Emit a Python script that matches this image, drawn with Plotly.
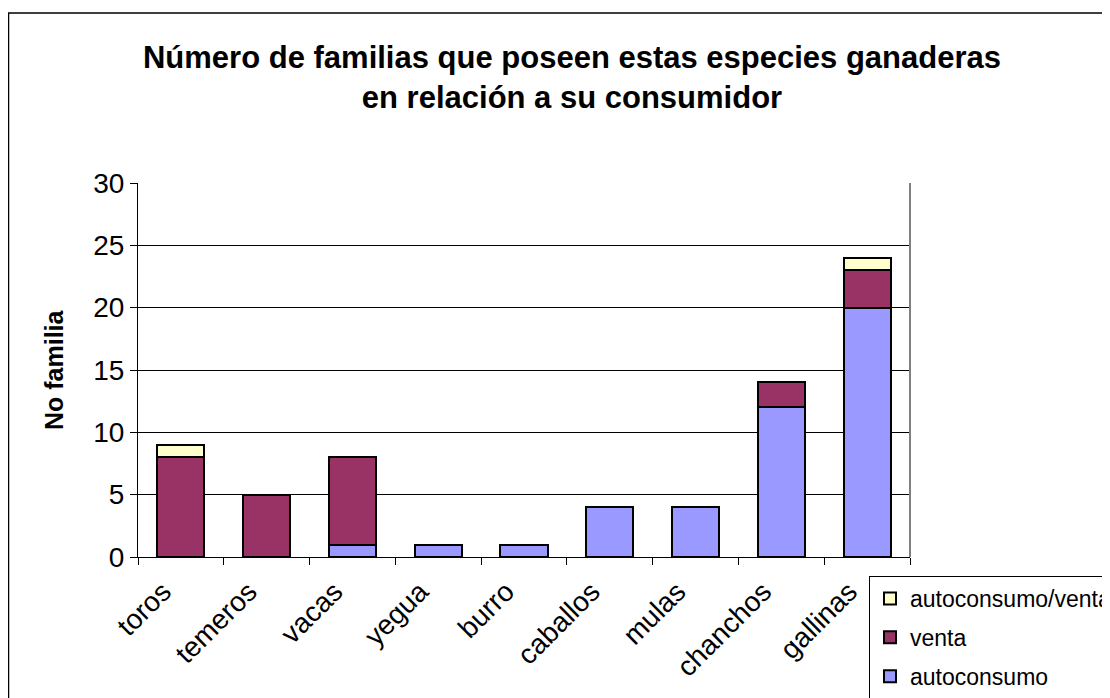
import plotly.graph_objects as go

categories = ["toros", "temeros", "vacas", "yegua", "burro", "caballos", "mulas", "chanchos", "gallinas"]
autoconsumo = [0, 0, 1, 1, 1, 4, 4, 12, 20]
venta = [8, 5, 7, 0, 0, 0, 0, 2, 3]
autoconsumo_venta = [1, 0, 0, 0, 0, 0, 0, 0, 1]
y_ticks = [0, 5, 10, 15, 20, 25, 30]

FONT = "Liberation Sans, Arial, sans-serif"
# page body has an 8px margin; coordinates below are figure coordinates
W, H = 1102, 690
L, T = 130, 175
RIGHT, BOTTOM = 902, 549
R, B = W - RIGHT, H - BOTTOM
pw, ph = RIGHT - L, BOTTOM - T

def px_x(p):
    return (p - L) / pw

def px_y(p):
    return (BOTTOM - p) / ph

fig = go.Figure()
series = [("autoconsumo", autoconsumo, "#9999FF", 3),
          ("venta", venta, "#993366", 2),
          ("autoconsumo/venta", autoconsumo_venta, "#FFFFCC", 1)]
for name, vals, col, rank in series:
    fig.add_trace(go.Bar(
        x=categories, y=vals, name=name, legendgroup=name, legendrank=rank,
        marker=dict(color=col, line=dict(color="black", width=2)),
    ))

fig.update_layout(
    width=W, height=H,
    margin=dict(l=L, r=R, t=T, b=B, autoexpand=False),
    barmode="stack", bargap=0.45,
    paper_bgcolor="white", plot_bgcolor="white",
    font=dict(family=FONT, color="black"),
    title=dict(
        text="<b>Número de familias que poseen estas especies ganaderas<br>en relación a su consumidor</b>",
        x=564 / W, xanchor="center", y=1 - 60 / H, yanchor="middle",
        font=dict(size=31, family=FONT),
    ),
    xaxis=dict(
        automargin=False,
        showline=True, linecolor="black", linewidth=1,
        ticks="outside", tickson="boundaries", ticklen=7, tickcolor="black",
        tickangle=-45, tickfont=dict(size=28, family=FONT),
        ticklabelshift=-18, ticklabelstandoff=6,
        showgrid=False,
    ),
    yaxis=dict(
        automargin=False,
        range=[0, 30], tickvals=y_ticks,
        showline=True, linecolor="black", linewidth=1,
        ticks="outside", ticklen=7, tickcolor="black",
        tickfont=dict(size=28, family=FONT),
        showgrid=True, gridcolor="black", gridwidth=1,
        zeroline=False,
    ),
    legend=dict(
        xref="container", yref="container",
        x=861 / W, y=1 - 568 / H, xanchor="left", yanchor="top",
        traceorder="grouped", tracegroupgap=6,
        bordercolor="black", borderwidth=1, bgcolor="white",
        font=dict(size=23, family=FONT),
    ),
    annotations=[
        dict(text="<b>No familia</b>", xref="paper", yref="paper",
             x=px_x(46), y=0.5, xanchor="center", yanchor="middle",
             textangle=-90, showarrow=False, font=dict(size=25, family=FONT)),
    ],
    shapes=[
        dict(type="line", xref="paper", yref="paper", x0=1, x1=1, y0=0, y1=1,
             line=dict(color="#808080", width=2)),
        dict(type="rect", xref="paper", yref="paper",
             x0=px_x(0.5), x1=px_x(1120), y0=px_y(710), y1=px_y(5),
             line=dict(color="black", width=1.5), layer="below"),
    ],
)

fig.write_html("out.html")
